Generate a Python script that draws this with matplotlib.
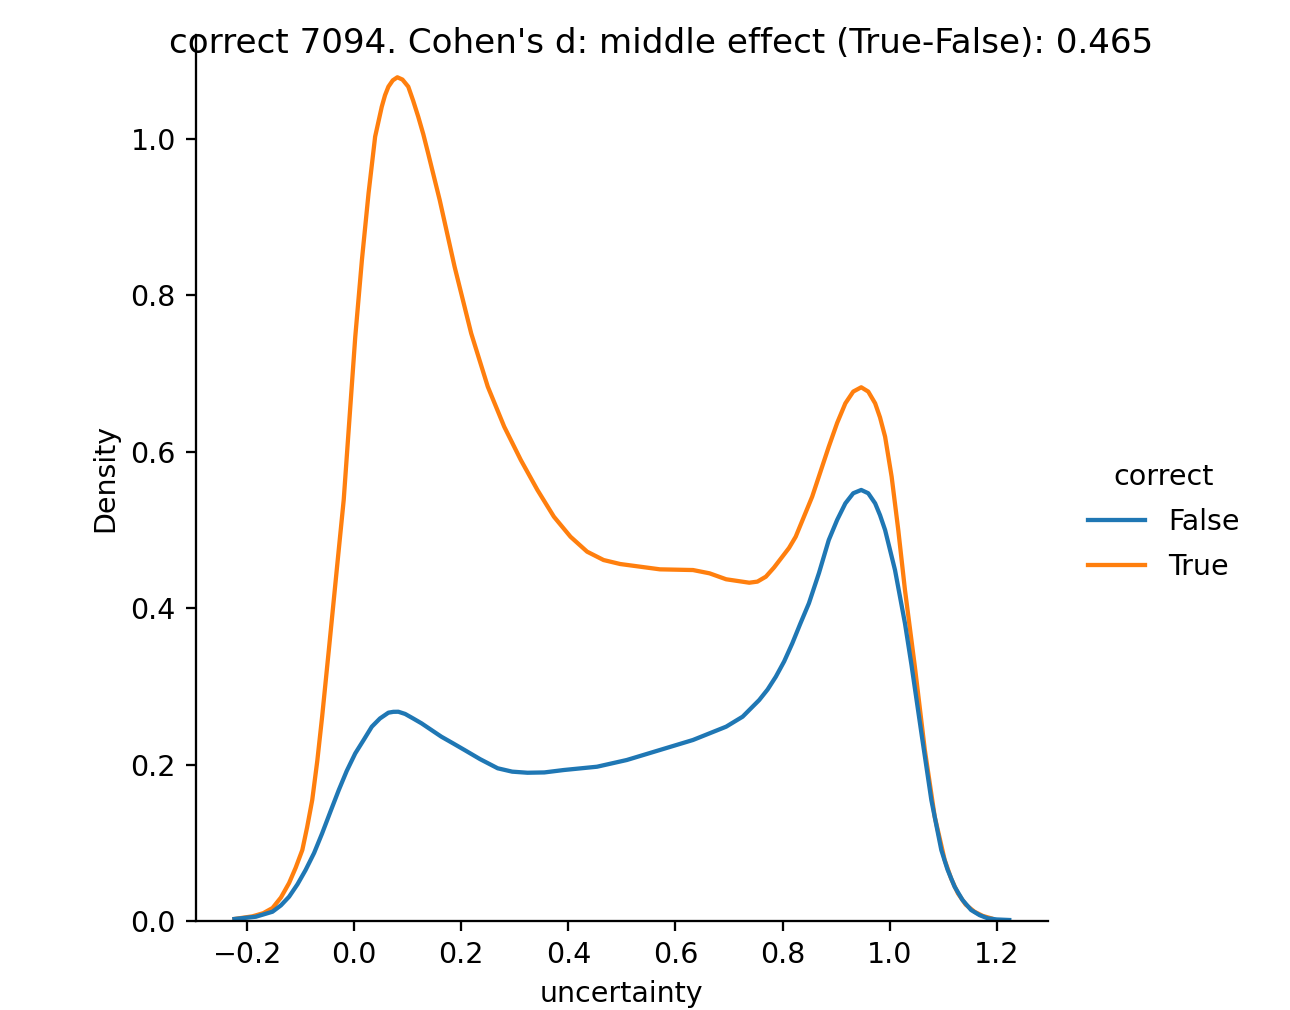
import matplotlib
matplotlib.use('Agg')
import matplotlib.pyplot as plt

# values (uncertainty, density)
true_x = [-0.2238, -0.19, -0.17, -0.1527, -0.137, -0.1217, -0.1095, -0.0970, -0.088, -0.0785,
          -0.069, -0.0600, -0.0475, -0.0321, -0.0197, -0.0078, 0.0019, 0.0143, 0.0267, 0.0390,
          0.0514, 0.0575, 0.0638, 0.0720, 0.0805, 0.0900, 0.1009, 0.1100, 0.1195, 0.1290,
          0.1380, 0.1596, 0.1874, 0.2184, 0.2494, 0.2801, 0.3111, 0.3421, 0.3729, 0.4039,
          0.4349, 0.4657, 0.4967, 0.5709, 0.6327, 0.6636, 0.6946, 0.7378, 0.7530, 0.7688,
          0.7840, 0.7996, 0.8120, 0.8245, 0.8553, 0.8863, 0.9020, 0.9173, 0.9320, 0.9469,
          0.9600, 0.9729, 0.9820, 0.9915, 1.0037, 1.0161, 1.0286, 1.0471, 1.0657, 1.0842,
          1.1028, 1.1150, 1.1275, 1.1420, 1.1584, 1.1740, 1.1892]
true_y = [0.0026, 0.0060, 0.0100, 0.0166, 0.0300, 0.0486, 0.0680, 0.0908, 0.1200, 0.1547,
          0.2050, 0.2613, 0.3465, 0.4531, 0.5384, 0.6535, 0.7472, 0.8453, 0.9306, 1.0030,
          1.0413, 1.0560, 1.0669, 1.0750, 1.0789, 1.0760, 1.0669, 1.0490, 1.0285, 1.0060,
          0.9817, 0.9220, 0.8367, 0.7515, 0.6833, 0.6321, 0.5895, 0.5512, 0.5170, 0.4914,
          0.4723, 0.4616, 0.4565, 0.4497, 0.4488, 0.4446, 0.4370, 0.4326, 0.4340, 0.4403,
          0.4520, 0.4659, 0.4770, 0.4914, 0.5426, 0.6065, 0.6370, 0.6620, 0.6770, 0.6825,
          0.6770, 0.6620, 0.6440, 0.6193, 0.5682, 0.5000, 0.4233, 0.3252, 0.2187, 0.1334,
          0.0780, 0.0540, 0.0354, 0.0210, 0.0119, 0.0065, 0.0035]

false_x = [-0.2238, -0.1837, -0.1527, -0.137, -0.1217, -0.106, -0.0909, -0.075, -0.0600, -0.045,
           -0.0289, -0.014, 0.0019, 0.018, 0.0328, 0.048, 0.0638, 0.073, 0.0824, 0.095,
           0.110, 0.1256, 0.1627, 0.185, 0.2059, 0.235, 0.2679, 0.295, 0.3236, 0.355,
           0.3915, 0.4534, 0.5091, 0.5709, 0.6327, 0.6946, 0.7254, 0.7564, 0.772, 0.7874,
           0.803, 0.8182, 0.833, 0.8492, 0.868, 0.8863, 0.902, 0.9173, 0.932, 0.9469,
           0.960, 0.9729, 0.982, 0.9915, 1.0100, 1.0286, 1.0408, 1.0594, 1.0779, 1.0965,
           1.108, 1.1213, 1.136, 1.1521, 1.168, 1.1831, 1.200, 1.2234]
false_y = [0.0026, 0.0055, 0.0119, 0.0200, 0.0311, 0.0470, 0.0652, 0.0870, 0.1121, 0.1390,
           0.1675, 0.1920, 0.2144, 0.2320, 0.2485, 0.2590, 0.2664, 0.2675, 0.2676, 0.2648,
           0.2590, 0.2528, 0.2357, 0.2270, 0.2187, 0.2070, 0.1953, 0.1910, 0.1896, 0.1900,
           0.1931, 0.1973, 0.2059, 0.2187, 0.2315, 0.2485, 0.2613, 0.2826, 0.2960, 0.3124,
           0.3320, 0.3551, 0.3800, 0.4063, 0.4450, 0.4872, 0.5130, 0.5341, 0.5470, 0.5512,
           0.5470, 0.5341, 0.5190, 0.5000, 0.4488, 0.3807, 0.3274, 0.2400, 0.1547, 0.0908,
           0.0660, 0.0439, 0.0270, 0.0141, 0.0075, 0.0035, 0.0020, 0.0013]

hue_levels = ['False', 'True']
n_correct = 7094
cohen_d = 0.465

DPI = 205
fig = plt.figure(figsize=(1290 / DPI, 1010 / DPI), dpi=DPI)
ax = fig.add_axes([0.1517, 0.0881, 0.6607, 0.8771])

# seaborn draws True first, False on top
ax.plot(true_x, true_y, color='#ff7f0e', lw=1.5)
ax.plot(false_x, false_y, color='#1f77b4', lw=1.5)
ax.set_ylim(bottom=0)

ax.spines['top'].set_visible(False)
ax.spines['right'].set_visible(False)
ax.set_xlabel('uncertainty')
ax.set_ylabel('Density')

handles = [plt.Line2D([], [], color='#1f77b4', lw=1.5),
           plt.Line2D([], [], color='#ff7f0e', lw=1.5)]
fig.legend(handles, hue_levels, title='correct', frameon=False, labelspacing=0.6,
           loc='center left', bbox_to_anchor=(0.8236, 0.483))

fig.text(0.5128, 0.9475,
         "correct %d. Cohen's d: middle effect (True-False): %.3f" % (n_correct, cohen_d),
         ha='center', va='baseline', fontsize=12)

plt.savefig('out.png', dpi=DPI)
